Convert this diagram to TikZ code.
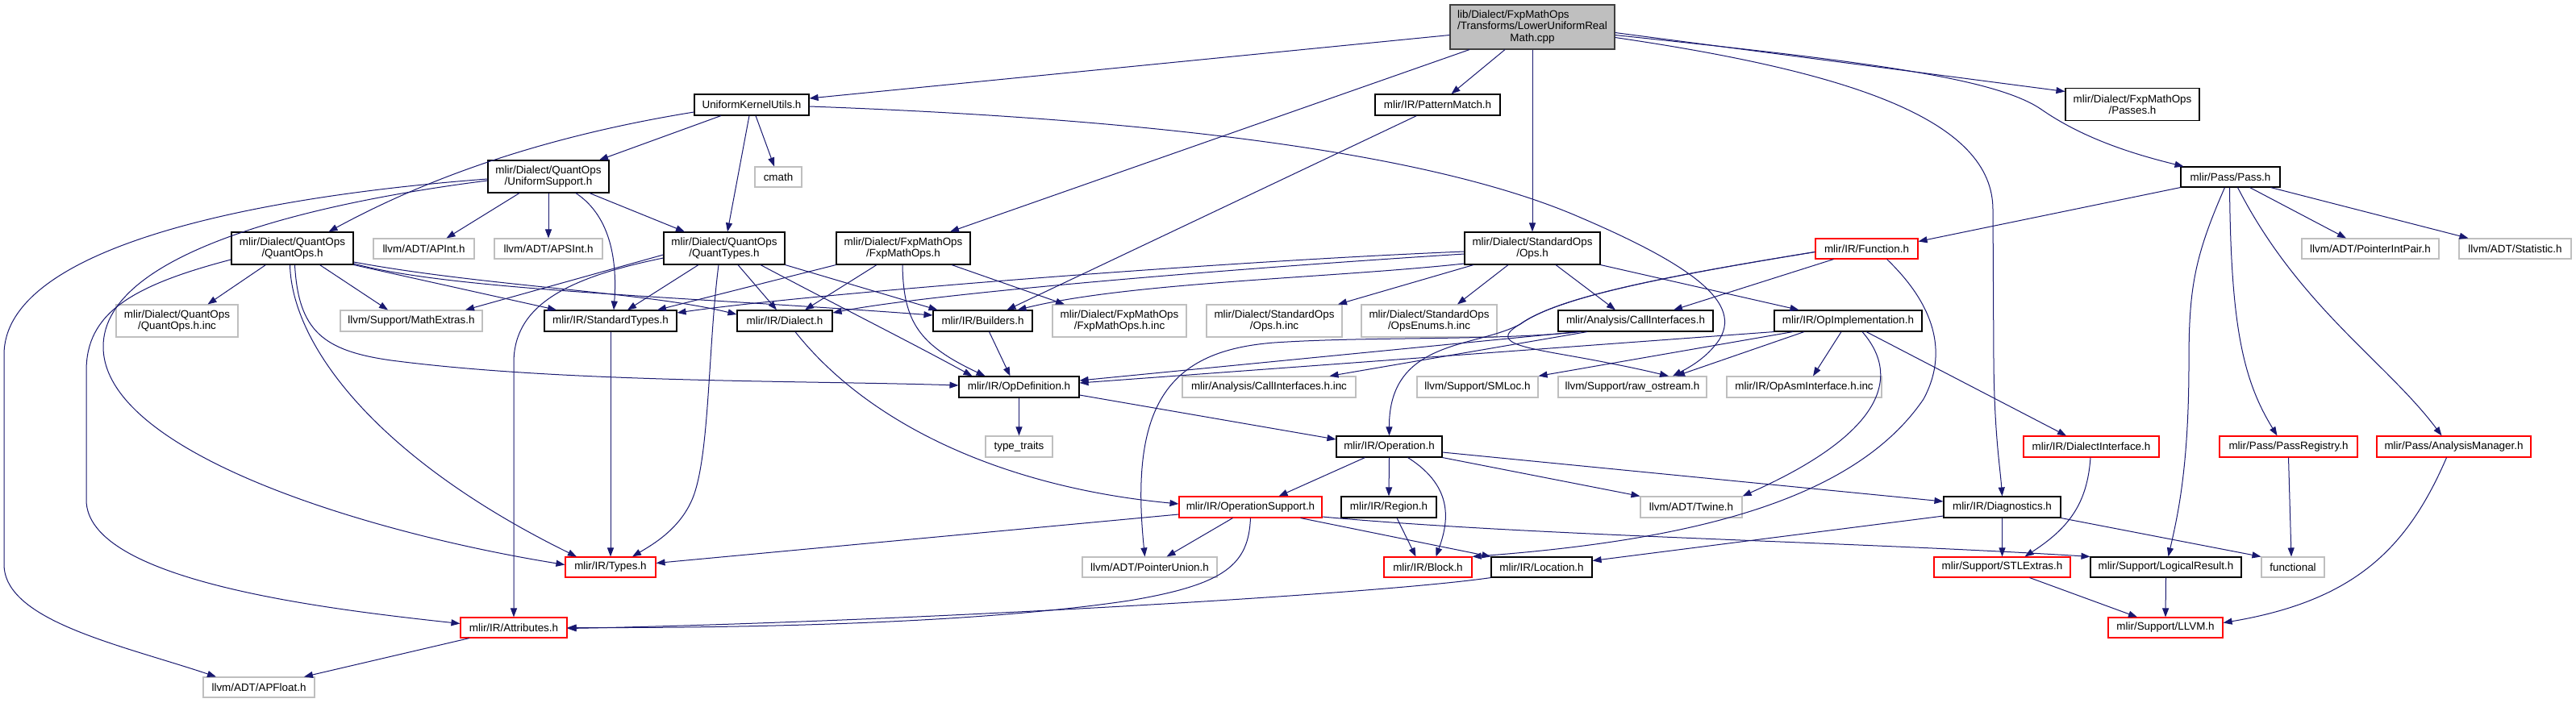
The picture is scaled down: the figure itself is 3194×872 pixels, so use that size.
\documentclass[tikz,border=0pt]{standalone}
\usepackage{fontspec}
\setmainfont{Liberation Sans}
\usetikzlibrary{arrows.meta}
\definecolor{edgeblue}{RGB}{25,25,112}
\definecolor{extgray}{RGB}{191,191,191}
\definecolor{truncred}{RGB}{255,0,0}
\definecolor{rootfill}{RGB}{191,191,191}
\definecolor{rootborder}{RGB}{64,64,64}
\newcommand{\dgfont}{\fontsize{13.4pt}{14.5pt}\selectfont}
\tikzset{
  nbox/.style={draw=black, line width=1.1pt, fill=white, inner sep=0pt, align=center, font=\dgfont, minimum height=26pt},
  twol/.style={minimum height=40pt},
  extbox/.style={nbox, draw=extgray},
  redbox/.style={nbox, draw=truncred},
  rootbox/.style={nbox, draw=rootborder, fill=rootfill},
  dep/.style={draw=edgeblue, line width=1.0pt, -{Triangle[length=11pt,width=8pt]}},
}
\begin{document}
\begin{tikzpicture}[x=1pt,y=-1pt]
\fill[white] (0,0) rectangle (3194,872);
\useasboundingbox (0,0) rectangle (3194,872);

% ---- nodes ----
\node[rootbox, minimum width=204pt, minimum height=55pt] (root) at (1900,33.5) {\rlap{lib/Dialect/FxpMathOps}\phantom{/Transforms/LowerUniformReal}\\/Transforms/LowerUniformReal\\Math.cpp};
\node[nbox, minimum width=142pt] (uku) at (932,130) {UniformKernelUtils.h};
\node[nbox, minimum width=155pt] (pm) at (1782.5,130) {mlir/IR/PatternMatch.h};
\node[nbox, twol, minimum width=166pt] (passes) at (2644,129.5) {mlir/Dialect/FxpMathOps\\/Passes.h};
\node[nbox, twol, minimum width=150pt] (us) at (680,219) {mlir/Dialect/QuantOps\\/UniformSupport.h};
\node[extbox, minimum width=58pt, minimum height=25pt] (cmath) at (965,219.5) {cmath};
\node[nbox, minimum width=123pt, minimum height=25pt] (pass) at (2765.5,219.5) {mlir/Pass/Pass.h};

\node[nbox, twol, minimum width=151pt] (quantops) at (362.5,308) {mlir/Dialect/QuantOps\\/QuantOps.h};
\node[extbox, minimum width=125pt, minimum height=25pt] (apint) at (525.5,308.5) {llvm/ADT/APInt.h};
\node[extbox, minimum width=134pt, minimum height=25pt] (apsint) at (680,308.5) {llvm/ADT/APSInt.h};
\node[nbox, twol, minimum width=150pt] (quanttypes) at (898,308) {mlir/Dialect/QuantOps\\/QuantTypes.h};
\node[nbox, twol, minimum width=166pt] (fxpops) at (1120,308) {mlir/Dialect/FxpMathOps\\/FxpMathOps.h};
\node[nbox, twol, minimum width=168pt] (stdops) at (1900,308) {mlir/Dialect/StandardOps\\/Ops.h};
\node[redbox, minimum width=127pt, minimum height=25pt] (function) at (2314.5,308.5) {mlir/IR/Function.h};
\node[extbox, minimum width=170pt, minimum height=25pt] (pip) at (2939,308.5) {llvm/ADT/PointerIntPair.h};
\node[extbox, minimum width=139pt, minimum height=25pt] (stat) at (3118.5,308.5) {llvm/ADT/Statistic.h};

\node[extbox, twol, minimum width=151pt] (quantopsinc) at (219.5,398) {mlir/Dialect/QuantOps\\/QuantOps.h.inc};
\node[extbox, minimum width=176pt] (mathextras) at (510,398) {llvm/Support/MathExtras.h};
\node[nbox, minimum width=164pt] (stdtypes) at (757,398) {mlir/IR/StandardTypes.h};
\node[nbox, minimum width=118pt] (dialect) at (973,398) {mlir/IR/Dialect.h};
\node[nbox, minimum width=123pt] (builders) at (1218.5,398) {mlir/IR/Builders.h};
\node[extbox, twol, minimum width=166pt] (fxpinc) at (1388,398) {mlir/Dialect/FxpMathOps\\/FxpMathOps.h.inc};
\node[extbox, twol, minimum width=168pt] (opsinc) at (1580,398) {mlir/Dialect/StandardOps\\/Ops.h.inc};
\node[extbox, twol, minimum width=168pt] (enumsinc) at (1772,398) {mlir/Dialect/StandardOps\\/OpsEnums.h.inc};
\node[nbox, minimum width=192pt] (callif) at (2028,398) {mlir/Analysis/CallInterfaces.h};
\node[nbox, minimum width=183pt] (opimpl) at (2291.5,398) {mlir/IR/OpImplementation.h};

\node[nbox, minimum width=149pt] (opdef) at (1263.5,480) {mlir/IR/OpDefinition.h};
\node[extbox, minimum width=215pt] (callinc) at (1573.5,480) {mlir/Analysis/CallInterfaces.h.inc};
\node[extbox, minimum width=150pt] (smloc) at (1832,480) {llvm/Support/SMLoc.h};
\node[extbox, minimum width=184pt] (rawos) at (2024,480) {llvm/Support/raw\_ostream.h};
\node[extbox, minimum width=192pt] (opasm) at (2237,480) {mlir/IR/OpAsmInterface.h.inc};

\node[extbox, minimum width=83pt] (typetraits) at (1263.5,554) {type\_traits};
\node[nbox, minimum width=131pt] (operation) at (1722.5,554) {mlir/IR/Operation.h};
\node[redbox, minimum width=168pt] (dialectif) at (2593,554) {mlir/IR/DialectInterface.h};
\node[redbox, minimum width=171pt] (passreg) at (2837.5,554) {mlir/Pass/PassRegistry.h};
\node[redbox, minimum width=191pt] (anman) at (3042.5,554) {mlir/Pass/AnalysisManager.h};

\node[redbox, minimum width=177pt] (opsupport) at (1550.5,629) {mlir/IR/OperationSupport.h};
\node[nbox, minimum width=118pt] (region) at (1722,629) {mlir/IR/Region.h};
\node[extbox, minimum width=126pt] (twine) at (2097,629) {llvm/ADT/Twine.h};
\node[nbox, minimum width=145pt] (diagnostics) at (2482.5,629) {mlir/IR/Diagnostics.h};

\node[redbox, minimum width=112pt, minimum height=25pt] (types) at (757,703.5) {mlir/IR/Types.h};
\node[extbox, minimum width=167pt, minimum height=25pt] (punion) at (1425.5,703.5) {llvm/ADT/PointerUnion.h};
\node[redbox, minimum width=109pt, minimum height=25pt] (block) at (1770.5,703.5) {mlir/IR/Block.h};
\node[nbox, minimum width=125pt, minimum height=25pt] (location) at (1911.5,703.5) {mlir/IR/Location.h};
\node[redbox, minimum width=169pt, minimum height=25pt] (stlextras) at (2482.5,703.5) {mlir/Support/STLExtras.h};
\node[nbox, minimum width=187pt, minimum height=25pt] (logres) at (2685.5,703.5) {mlir/Support/LogicalResult.h};
\node[extbox, minimum width=78pt, minimum height=25pt] (functional) at (2843,703.5) {functional};

\node[redbox, minimum width=132pt, minimum height=25pt] (attrs) at (637,778.5) {mlir/IR/Attributes.h};
\node[redbox, minimum width=142pt, minimum height=25pt] (llvmh) at (2685,778.5) {mlir/Support/LLVM.h};
\node[extbox, minimum width=138pt, minimum height=25pt] (apfloat) at (321,852.5) {llvm/ADT/APFloat.h};

% ---- edges from root ----
\draw[dep] ([yshift=-10pt]root.west) -- ([yshift=8pt]uku.east);
\draw[dep] ([xshift=-78pt]root.south) -- ([xshift=58pt]fxpops.north);
\draw[dep] ([xshift=-34pt]root.south) -- ([xshift=17pt]pm.north);
\draw[dep] (root.south) -- (stdops.north);
\draw[dep] ([yshift=-7pt]root.east) -- ([yshift=16pt]passes.west);
\draw[dep] ([yshift=-10pt]root.east) .. controls (2300,75) and (2470,95) .. (2530,135) .. controls (2580,170) and (2640,190) .. ([xshift=-58pt]pass.north);
\draw[dep] ([yshift=-13pt]root.east) .. controls (2300,90) and (2471,150) .. (2471,260) -- (2472,450) .. controls (2473,540) and (2480,580) .. (diagnostics.north);

% ---- UniformKernelUtils ----
\draw[dep] ([yshift=-9pt]uku.west) .. controls (700,165) and (550,210) .. ([xshift=45pt]quantops.north);
\draw[dep] ([xshift=-38pt]uku.south) -- ([xshift=63pt]us.north);
\draw[dep] ([xshift=-3pt]uku.south) -- ([xshift=4pt]quanttypes.north);
\draw[dep] ([xshift=5pt]uku.south) -- ([xshift=-5pt]cmath.north);
\draw[dep] ([yshift=-2pt]uku.east) .. controls (1500,150) and (1800,200) .. (1960,270) .. controls (2100,330) and (2170,380) .. (2125,430) .. controls (2110,448) and (2090,458) .. ([xshift=50pt]rawos.north);

% ---- UniformSupport ----
\draw[dep] ([xshift=-36pt]us.south) -- ([xshift=28pt]apint.north);
\draw[dep] (us.south) -- (apsint.north);
\draw[dep] ([xshift=34pt]us.south) .. controls (760,270) and (765,330) .. ([xshift=4pt]stdtypes.north);
\draw[dep] ([xshift=51pt]us.south) -- ([xshift=-49pt]quanttypes.north);
\draw[dep] ([yshift=-5pt]us.west) .. controls (400,250) and (128,310) .. (128,430) .. controls (128,560) and (450,660) .. ([yshift=3pt]types.west);
\draw[dep] ([yshift=-3pt]us.west) .. controls (300,245) and (5,310) .. (5,440) -- (5,700) .. controls (5,770) and (150,800) .. ([xshift=-53pt]apfloat.north);

% ---- QuantOps ----
\draw[dep] ([xshift=-33pt]quantops.south) -- ([xshift=38pt]quantopsinc.north);
\draw[dep] ([xshift=34pt]quantops.south) -- ([xshift=-29pt]mathextras.north);
\draw[dep] (quantops.south east) -- ([xshift=-67pt]stdtypes.north);
\draw[dep] ([yshift=-17pt]quantops.east) .. controls (600,355) and (800,362) .. ([yshift=8pt]dialect.west);
\draw[dep] ([yshift=-19pt]quantops.east) .. controls (560,360) and (850,368) .. ([yshift=7pt]builders.west);
\draw[dep] ([xshift=3pt]quantops.south) .. controls (370,410) and (400,435) .. (485,447) .. controls (700,475) and (1000,472) .. ([yshift=2pt]opdef.west);
\draw[dep] ([xshift=-3pt]quantops.south) .. controls (362,430) and (470,570) .. ([xshift=-42pt]types.north);
\draw[dep] ([yshift=-14pt]quantops.west) .. controls (160,355) and (107,390) .. (107,460) -- (107,620) .. controls (107,720) and (400,755) .. ([yshift=5pt]attrs.west);

% ---- QuantTypes ----
\draw[dep] ([xshift=-32pt]quanttypes.south) -- ([xshift=21pt]stdtypes.north);
\draw[dep] ([yshift=-8pt]quanttypes.west) -- ([xshift=67pt]mathextras.north);
\draw[dep] ([yshift=-12pt]quanttypes.west) .. controls (700,345) and (637,380) .. (637,450) -- (attrs.north);
\draw[dep] ([xshift=-7pt]quanttypes.south) .. controls (878,430) and (880,560) .. (860,615) .. controls (845,655) and (810,675) .. ([xshift=27pt]types.north);
\draw[dep] ([xshift=17pt]quanttypes.south) -- ([xshift=-10pt]dialect.north);
\draw[dep] (quanttypes.south east) -- ([xshift=-56pt]builders.north);
\draw[dep] ([xshift=45pt]quanttypes.south) .. controls (1040,380) and (1130,425) .. ([xshift=-58pt]opdef.north);

% ---- FxpMathOps ----
\draw[dep] (fxpops.south west) -- ([xshift=58pt]stdtypes.north);
\draw[dep] ([xshift=-33pt]fxpops.south) -- ([xshift=25pt]dialect.north);
\draw[dep] ([xshift=-1pt]fxpops.south) .. controls (1120,400) and (1140,428) .. ([xshift=-42pt]opdef.north);
\draw[dep] ([xshift=60pt]fxpops.south) -- ([xshift=-68pt]fxpinc.north);

% ---- PatternMatch ----
\draw[dep] ([xshift=-26pt]pm.south) -- ([xshift=30pt]builders.north);

% ---- StandardOps ----
\draw[dep] ([yshift=-4pt]stdops.west) .. controls (1500,325) and (1000,365) .. ([yshift=10pt]stdtypes.east);
\draw[dep] ([yshift=-7pt]stdops.west) .. controls (1500,335) and (1150,365) .. ([yshift=10pt]dialect.east);
\draw[dep] ([yshift=-19pt]stdops.west) .. controls (1650,345) and (1400,350) .. ([xshift=43pt]builders.north);
\draw[dep] ([xshift=-73pt]stdops.south) -- ([xshift=79pt]opsinc.north);
\draw[dep] ([xshift=-30pt]stdops.south) -- ([xshift=35pt]enumsinc.north);
\draw[dep] ([xshift=29pt]stdops.south) -- ([xshift=-25pt]callif.north);
\draw[dep] (stdops.south east) -- ([xshift=-61pt]opimpl.north);

% ---- Pass ----
\draw[dep] (pass.south west) -- ([yshift=9pt]function.east);
\draw[dep] ([xshift=-7pt]pass.south) .. controls (2720,320) and (2714,360) .. (2714,450) .. controls (2714,580) and (2700,640) .. ([xshift=3pt]logres.north);
\draw[dep] ([xshift=-1pt]pass.south) .. controls (2766,400) and (2780,470) .. ([xshift=-14pt]passreg.north);
\draw[dep] ([xshift=9pt]pass.south) .. controls (2850,380) and (2960,450) .. ([xshift=-15pt]anman.north);
\draw[dep] ([xshift=24pt]pass.south) -- ([xshift=-30pt]pip.north);
\draw[dep] ([xshift=50pt]pass.south) -- ([xshift=-58pt]stat.north);

% ---- Function ----
\draw[dep] ([xshift=-41pt]function.south) -- ([xshift=47pt]callif.north);
\draw[dep] ([xshift=25pt]function.south) .. controls (2390,370) and (2420,430) .. (2385,495) .. controls (2300,620) and (2100,670) .. (block.north east);
\draw[dep] ([yshift=-4pt]function.west) .. controls (2050,345) and (1930,370) .. (1885,402) .. controls (1830,432) and (1722,420) .. (operation.north);
\draw[dep] ([yshift=-4pt]function.west) .. controls (2050,345) and (1930,370) .. (1885,402) .. controls (1840,428) and (1900,432) .. (1983,448) .. controls (2030,457) and (2050,462) .. ([xshift=45pt]rawos.north);

% ---- CallInterfaces ----
\draw[dep] ([xshift=-68pt]callif.south) .. controls (1850,423) and (1700,417) .. (1580,425) .. controls (1450,435) and (1400,500) .. ([xshift=-6pt]punion.north);
\draw[dep] ([xshift=-72pt]callif.south) -- ([yshift=8pt]opdef.east);
\draw[dep] ([xshift=-60pt]callif.south) -- ([xshift=75pt]callinc.north);

% ---- OpImplementation ----
\draw[dep] ([xshift=-68.5pt]opimpl.south) -- (smloc.north east);
\draw[dep] ([xshift=-54.5pt]opimpl.south) -- ([xshift=54pt]rawos.north);
\draw[dep] ([xshift=-8.5pt]opimpl.south) -- ([xshift=11pt]opasm.north);
\draw[dep] ([xshift=17.5pt]opimpl.south) .. controls (2360,470) and (2330,540) .. (twine.north east);
\draw[dep] ([xshift=22.5pt]opimpl.south) -- ([xshift=-31pt]dialectif.north);
\draw[dep] (opimpl.south west) -- ([yshift=5pt]opdef.east);

% ---- Builders / Dialect / StandardTypes ----
\draw[dep] ([xshift=8pt]builders.south) -- ([xshift=-11pt]opdef.north);
\draw[dep] ([xshift=13pt]dialect.south) .. controls (1080,530) and (1250,605) .. ([yshift=4pt]opsupport.west);
\draw[dep] (stdtypes.south) -- (types.north);

% ---- OpDefinition ----
\draw[dep] (opdef.south) -- (typetraits.north);
\draw[dep] ([yshift=-10pt]opdef.east) -- ([yshift=9pt]operation.west);

% ---- Operation ----
\draw[dep] ([xshift=-30pt]operation.south) -- ([xshift=35pt]opsupport.north);
\draw[dep] (operation.south) -- (region.north);
\draw[dep] ([xshift=23pt]operation.south) .. controls (1805,605) and (1795,650) .. ([xshift=10pt]block.north);
\draw[dep] (operation.south east) -- (twine.north west);
\draw[dep] ([yshift=-7pt]operation.east) -- ([yshift=7pt]diagnostics.west);
\draw[dep] ([xshift=10pt]region.south) -- ([xshift=-15pt]block.north);

% ---- OperationSupport ----
\draw[dep] ([yshift=-9pt]opsupport.west) -- ([yshift=5pt]types.east);
\draw[dep] ([xshift=-22pt]opsupport.south) -- ([xshift=21pt]punion.north);
\draw[dep] (opsupport.south) .. controls (1548,700) and (1520,725) .. (1400,745) .. controls (1200,775) and (900,779) .. (attrs.east);
\draw[dep] ([xshift=62pt]opsupport.south) -- (location.north west);
\draw[dep] ([yshift=-12pt]opsupport.east) .. controls (1900,665) and (2300,672) .. (logres.north west);

% ---- Location / Diagnostics ----
\draw[dep] (location.south west) .. controls (1700,738) and (1100,772) .. ([yshift=-1pt]attrs.east);
\draw[dep] ([yshift=-11pt]diagnostics.west) -- ([yshift=8pt]location.east);
\draw[dep] (diagnostics.south) -- (stlextras.north);
\draw[dep] (diagnostics.south east) -- (functional.north west);

% ---- right part ----
\draw[dep] ([xshift=-1pt]dialectif.south) .. controls (2588,625) and (2565,655) .. ([xshift=28pt]stlextras.north);
\draw[dep] (passreg.south) -- ([xshift=-2pt]functional.north);
\draw[dep] ([xshift=-9pt]anman.south) .. controls (2985,680) and (2920,745) .. ([yshift=6pt]llvmh.east);
\draw[dep] ([xshift=34pt]stlextras.south) -- ([xshift=-35pt]llvmh.north);
\draw[dep] (logres.south) -- (llvmh.north);
\draw[dep] ([xshift=-55pt]attrs.south) -- ([xshift=56pt]apfloat.north);
\end{tikzpicture}
\end{document}
